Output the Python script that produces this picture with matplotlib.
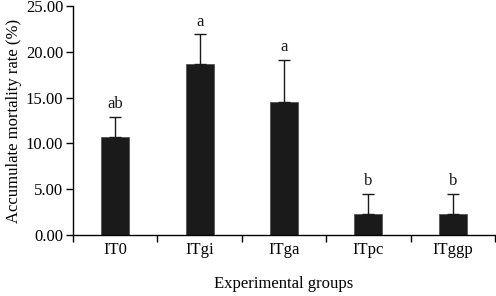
import matplotlib
matplotlib.use("Agg")
import matplotlib.pyplot as plt
import numpy as np

categories = ["IT0", "ITgi", "ITga", "ITpc", "ITggp"]
values = [10.7, 18.7, 14.5, 2.3, 2.3]
errors = [2.2, 3.2, 4.6, 2.2, 2.2]
letters = ["ab", "a", "a", "b", "b"]
yticks = [0, 5, 10, 15, 20, 25]

plt.rcParams['font.family'] = ['Liberation Serif', 'DejaVu Serif']

fig = plt.figure(figsize=(4.96, 2.96), dpi=100)
ax = fig.add_axes([73/496, 1-235/296, (495-73)/496, (235-6)/296])

x = np.arange(len(categories))
ax.bar(x, values, width=0.33, color='#1a1a1a', edgecolor='#555555', linewidth=0.6, zorder=2)
ax.errorbar(x, values, yerr=[np.zeros(len(errors)), errors], fmt='none',
            ecolor='#1a1a1a', elinewidth=1.0, capsize=4, capthick=1.0, zorder=3)
for xi, v, e, l in zip(x, values, errors, letters):
    ax.text(xi, v + e + 0.5, l, ha='center', va='bottom', fontsize=12, color='#1a1a1a')

ax.set_xlim(-0.5, len(categories) - 0.5)
ax.set_ylim(0, 25)
ax.set_yticks(yticks)
ax.set_yticklabels([f"{t:.2f}" for t in yticks], fontsize=12)
ax.set_xticks(x)
ax.set_xticklabels(categories, fontsize=12)
ax.tick_params(axis='x', which='major', length=0, pad=5)
ax.set_xticks(np.arange(-0.5, len(categories)), minor=True)
ax.tick_params(axis='x', which='minor', length=5, direction='out', width=1)
ax.tick_params(axis='y', length=5, direction='out', width=1, pad=2)
for s in ['top', 'right']:
    ax.spines[s].set_visible(False)
for s in ['left', 'bottom']:
    ax.spines[s].set_linewidth(1.0)
ax.set_ylabel("Accumulate mortality rate (%)", fontsize=12, labelpad=3)
ax.set_xlabel("Experimental groups", fontsize=12, labelpad=13)

fig.savefig("out.png", dpi=100)
